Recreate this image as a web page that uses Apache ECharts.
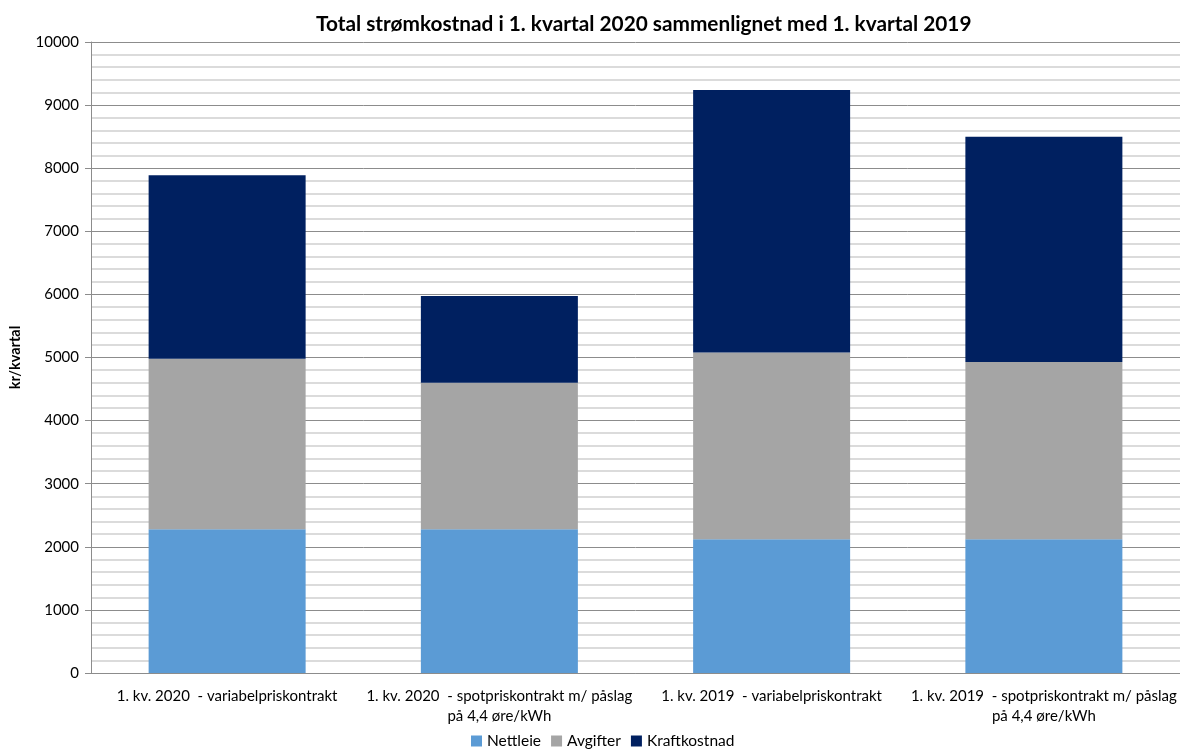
<!DOCTYPE html>
<html>
<head>
<meta charset="utf-8">
<script src="https://cdn.jsdelivr.net/npm/echarts@6/dist/echarts.min.js"></script>
<style>
  html, body { margin: 0; padding: 0; background: #fff; }
  #chart { width: 1180px; height: 751px; }
</style>
</head>
<body>
<div id="chart"></div>
<script>
// Quarterly electricity cost per contract type (kr/kvartal)
const categories = [
  '1. kv. 2020  - variabelpriskontrakt',
  '1. kv. 2020  - spotpriskontrakt m/ påslag\npå 4,4 øre/kWh',
  '1. kv. 2019  - variabelpriskontrakt',
  '1. kv. 2019  - spotpriskontrakt m/ påslag\npå 4,4 øre/kWh'
];
const nettleie = [2280, 2280, 2120, 2120];
const avgifter = [2700, 2320, 2960, 2810];
const kraftkostnad = [2910, 1375, 4160, 3570];
const seriesNames = ['Nettleie', 'Avgifter', 'Kraftkostnad'];
const seriesColors = ['#5B9BD5', '#A5A5A5', '#002060'];

const FONT = 'Lato, "Open Sans", sans-serif';

const chart = echarts.init(document.getElementById('chart'), null, { renderer: 'canvas' });

const values = [nettleie, avgifter, kraftkostnad];
const series = seriesNames.map((name, i) => ({
  name: name,
  type: 'bar',
  stack: 'total',
  data: values[i],
  barWidth: 157,
  itemStyle: { color: seriesColors[i] },
  emphasis: { disabled: true }
}));

chart.setOption({
  animation: false,
  backgroundColor: '#ffffff',
  title: {
    text: 'Total strømkostnad i 1. kvartal 2020 sammenlignet med 1. kvartal 2019',
    left: 311,
    top: 9,
    textStyle: { fontFamily: FONT, fontSize: 20.8, fontWeight: 'bold', color: '#000' }
  },
  legend: {
    bottom: -3,
    left: 466,
    itemWidth: 11,
    itemHeight: 11,
    itemGap: 10,
    icon: 'rect',
    textStyle: { fontFamily: FONT, fontSize: 15.5, color: '#000' },
    data: seriesNames
  },
  grid: { left: 90, top: 42, bottom: 78, width: 1092 },
  xAxis: {
    type: 'category',
    data: categories,
    axisLine: { lineStyle: { color: '#8c8c8c', width: 1 } },
    axisTick: { show: false },
    axisLabel: {
      fontFamily: FONT, fontSize: 15, color: '#000',
      margin: 13, lineHeight: 20, align: 'center', interval: 0
    }
  },
  yAxis: {
    type: 'value',
    name: 'kr/kvartal',
    nameLocation: 'middle',
    nameGap: 68,
    nameRotate: 90,
    nameTextStyle: { fontFamily: FONT, fontSize: 14.5, fontWeight: 'bold', color: '#000' },
    min: 0,
    max: 10000,
    interval: 1000,
    axisLine: { show: true, lineStyle: { color: '#8c8c8c', width: 1 } },
    axisTick: { show: true, length: 6, lineStyle: { color: '#8c8c8c' } },
    axisLabel: {
      fontFamily: FONT, fontSize: 15, color: '#000', margin: 12,
      formatter: (v) => String(v)
    },
    splitLine: { lineStyle: { color: '#8c8c8c', width: 1 } },
    minorTick: { show: false, splitNumber: 5 },
    minorSplitLine: { show: true, lineStyle: { color: '#cfcfcf', width: 1.5 } }
  },
  series: series
});
</script>
</body>
</html>
